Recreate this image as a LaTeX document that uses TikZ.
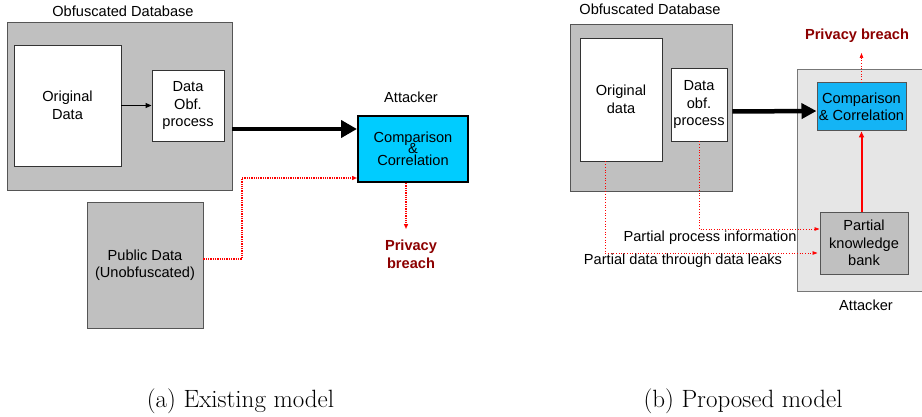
\documentclass[tikz,border=0pt]{standalone}
\usepackage{fontspec}
\setmainfont{Liberation Sans}
\newfontfamily\capfont{Latin Modern Roman}
\usetikzlibrary{arrows.meta,positioning,calc}
\definecolor{dbgray}{RGB}{192,192,192}
\definecolor{attgray}{RGB}{230,230,230}
\definecolor{edgegray}{RGB}{85,85,85}
\definecolor{cyanA}{RGB}{0,204,255}
\definecolor{cyanB}{RGB}{20,180,245}
\definecolor{breachred}{RGB}{140,0,0}
\definecolor{leakred}{RGB}{255,0,0}
\tikzset{
  txt/.style={font=\fontsize{14.6}{17.5}\selectfont,align=center,inner sep=0pt},
  dbbox/.style={draw=edgegray,fill=dbgray,line width=0.9pt,minimum width=#1},
  whitebox/.style={draw=black!80,fill=white,line width=0.9pt,txt},
  cmpbox/.style={fill=#1,txt},
  attarea/.style={draw=edgegray!80,fill=attgray,line width=0.8pt},
  bigarrow/.style={-{Triangle[length=16pt,width=17pt]},line width=4.5pt},
  leak/.style={->,>={Triangle[length=5pt,width=4pt]},color=leakred,densely dotted,line width=1.3pt},
  leakthin/.style={->,>={Triangle[length=5pt,width=3.5pt]},color=leakred,dotted,line width=0.7pt},
  kbfeed/.style={-{Triangle[length=6pt,width=5pt]},red,line width=2pt},
  breach/.style={txt,font=\fontsize{14.6}{18}\selectfont\bfseries,text=breachred},
  caption/.style={font=\capfont\fontsize{25}{28}\selectfont},
}
\begin{document}
\begin{tikzpicture}[x=1pt,y=1pt]
  \useasboundingbox (0,0) rectangle (922,416);
  % (a) existing model
  \node[txt] (dbtitle) at (123,405) {Obfuscated Database};
  \node[dbbox=225pt,minimum height=168pt] (db) at (119.5,310) {};
  \node[whitebox,minimum width=107pt,minimum height=121pt] (orig) at (67.5,310.5) {Original\\Data};
  \node[whitebox,minimum width=72pt,minimum height=71pt] (obf) at (188,310.5) {Data\\Obf.\\process};
  \draw[->,>={Triangle[length=6pt,width=5pt]},line width=0.9pt] (orig.east) -- (obf.west);
  \node[cmpbox=cyanA,draw=black,line width=2pt,minimum width=110pt,minimum height=66pt] (comp) at (413,267) {Comparison\\[-6pt]\&\\[-5.5pt]Correlation};
  \node[txt] (attA) at (411,319) {Attacker};
  \draw[bigarrow] ([yshift=-23pt]db.east) -- ([yshift=20pt]comp.west);
  \node[dbbox=116pt,minimum height=126pt,txt] (pub) at (145,151) {Public Data\\(Unobfuscated)};
  \draw[leak] ([yshift=6pt]pub.east) -| (242,238) -- ([yshift=-29pt]comp.west);
  \coordinate (breachA) at (406,187);
  \draw[leak] (comp.south -| breachA) -- (breachA);
  \node[breach] (privA) at (411,162) {Privacy\\breach};
  % (b) proposed model
  \node[txt] (dbtitle2) at (650,407) {Obfuscated Database};
  \node[dbbox=162pt,minimum height=167pt] (db2) at (651,308.5) {};
  \node[whitebox,minimum width=82pt,minimum height=123pt] (orig2) at (621,316.5) {Original\\data};
  \node[whitebox,minimum width=56pt,minimum height=73pt] (obf2) at (699,311.5) {Data\\obf.\\process};
  \node[attarea,minimum width=129pt,minimum height=222pt] (att) at (861.5,236) {};
  \node[txt] (attB) at (866,111) {Attacker};
  \node[cmpbox=cyanB,draw=edgegray,line width=1pt,minimum width=89pt,minimum height=48pt] (comp2) at (861.5,309) {Comparison\\\& Correlation};
  \node[dbbox=88pt,minimum height=62pt,txt] (kb) at (864,173) {Partial\\knowledge\\bank};
  \draw[bigarrow,-{Triangle[length=15pt,width=15pt]}] ([yshift=-4pt]db2.east) -- ([yshift=-4pt]comp2.west);
  \draw[kbfeed] ([xshift=-2.5pt]kb.north) -- (comp2.south);
  \coordinate (breachB) at (861.5,363);
  \draw[leakthin] (comp2.north) -- (breachB);
  \node[breach] (privB) at (857,380) {Privacy breach};
  \draw[leakthin] (obf2.south) |- ([yshift=14pt]kb.west);
  \draw[leakthin] ([xshift=-16pt]orig2.south) |- ([xshift=-2pt,yshift=-10pt]kb.west);
  \node[txt] (procinfo) at (710,178) {Partial process information};
  \node[txt] (dataleak) at (683,155) {Partial data through data leaks};
  % captions
  \node[caption] (capA) at (240.5,15) {(a) Existing model};
  \node[caption] (capB) at (743,15) {(b) Proposed model};
\end{tikzpicture}
\end{document}
